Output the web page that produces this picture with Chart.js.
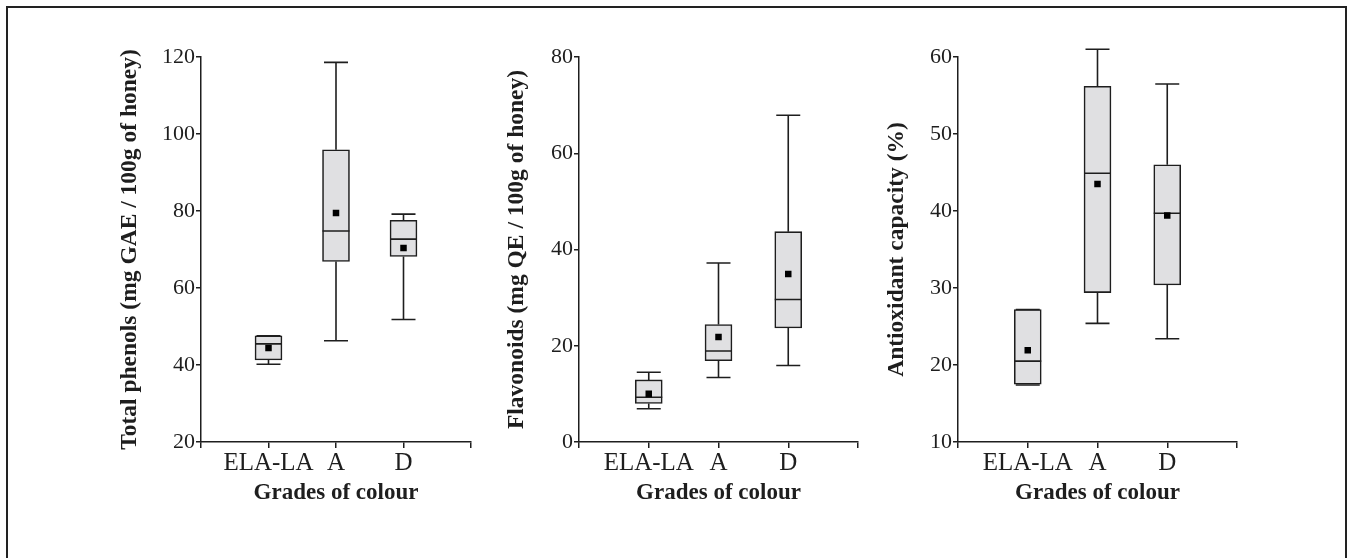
<!DOCTYPE html>
<html>
<head>
<meta charset="utf-8">
<script src="https://cdn.jsdelivr.net/npm/chart.js@4/dist/chart.umd.min.js"></script>
<style>
    body { margin: 0; background: #fff; }
    #frame { position: absolute; left: 6px; top: 6px; width: 1341px; height: 600px; border: 2px solid #222; box-sizing: border-box; }
    canvas { position: absolute; top: 0; }
</style>
</head>
<body>
<div id="frame"></div>
<canvas id="phenols" width="380" height="558" style="left:100px"></canvas>
<canvas id="flavonoids" width="380" height="558" style="left:490px"></canvas>
<canvas id="antioxidant" width="380" height="558" style="left:870px"></canvas>
<script>
const grades = ['ELA-LA', 'A', 'D'];

// total phenols (mg GAE / 100g)
const phenolMin = [40.2, 46.3, 51.8];
const phenolQ1 = [41.3, 66.9, 68.2];
const phenolMedian = [45.5, 74.8, 72.7];
const phenolQ3 = [47.6, 95.9, 77.6];
const phenolMax = [47.6, 118.6, 79.2];
const phenolMean = [44.4, 79.5, 70.4];

// flavonoids (mg QE / 100g)
const flavMin = [6.9, 13.4, 15.9];
const flavQ1 = [8.0, 16.9, 23.7];
const flavMedian = [9.3, 18.9, 29.6];
const flavQ3 = [12.9, 24.4, 43.7];
const flavMax = [14.5, 37.2, 67.9];
const flavMean = [10.0, 21.8, 34.9];

// antioxidant capacity (%)
const antiMin = [17.4, 25.4, 23.4];
const antiQ1 = [17.5, 29.4, 30.4];
const antiMedian = [20.5, 44.9, 39.7];
const antiQ3 = [27.2, 56.2, 46.0];
const antiMax = [27.2, 61.0, 56.5];
const antiMean = [21.9, 43.5, 39.4];

const ink = '#1e1e1e';
const serif = "'Liberation Serif', 'DejaVu Serif', serif";

// whiskers + median, drawn from the bar elements and the y scale
const boxPlugin = {
    id: 'boxParts',
    afterDatasetDraw(chart, args) {
        if (args.index !== 0) return;
        const stats = chart.config.options.plugins.boxParts;
        const y = chart.scales.y;
        const ctx = chart.ctx;
        const meta = chart.getDatasetMeta(0);
        ctx.save();
        ctx.strokeStyle = ink;
        ctx.lineWidth = 1.6;
        meta.data.forEach((bar, i) => {
            const k = i - 1;
            if (k < 0 || k >= grades.length) return;
            const x = bar.x;
            const half = bar.width / 2;
            const cap = half - 1.5;
            const yMin = y.getPixelForValue(stats.min[k]);
            const yMax = y.getPixelForValue(stats.max[k]);
            const yQ1 = y.getPixelForValue(stats.q1[k]);
            const yQ3 = y.getPixelForValue(stats.q3[k]);
            const yMed = y.getPixelForValue(stats.median[k]);
            ctx.beginPath();
            ctx.moveTo(x, yQ3); ctx.lineTo(x, yMax);
            ctx.moveTo(x - cap, yMax); ctx.lineTo(x + cap, yMax);
            ctx.moveTo(x, yQ1); ctx.lineTo(x, yMin);
            ctx.moveTo(x - cap, yMin); ctx.lineTo(x + cap, yMin);
            ctx.moveTo(x - half, yMed); ctx.lineTo(x + half, yMed);
            ctx.stroke();
        });
        ctx.restore();
    }
};

function makePanel(id, s, yOpts) {
    const pad = (v) => [null, ...v, null];
    const ctx = document.getElementById(id).getContext('2d');
    return new Chart(ctx, {
        type: 'bar',
        data: {
            labels: ['', ...grades, ''],
            datasets: [{
                data: pad(s.q1.map((q, i) => [q, s.q3[i]])),
                backgroundColor: '#e0e0e2',
                borderColor: ink,
                borderWidth: 1.6,
                borderSkipped: false,
                barThickness: 27,
                order: 2
            }, {
                type: 'line',
                data: pad(s.mean),
                showLine: false,
                pointStyle: 'rect',
                pointRadius: 4.6,
                pointBackgroundColor: '#000',
                pointBorderWidth: 0,
                order: 1
            }]
        },
        options: {
            responsive: false,
            animation: false,
            layout: { padding: { left: 0, right: yOpts.padRight, top: yOpts.top, bottom: 36 } },
            plugins: {
                legend: { display: false },
                tooltip: { enabled: false },
                boxParts: s
            },
            scales: {
                x: {
                    offset: false,
                    grid: { offset: false, drawOnChartArea: false, color: ink, lineWidth: 1.5, tickLength: 6 },
                    border: { color: ink, width: 1.5 },
                    ticks: { color: ink, font: { family: serif, size: 25 }, padding: 0, maxRotation: 0, autoSkip: false },
                    title: { display: true, text: 'Grades of colour', color: ink, font: { family: serif, size: 23, weight: 'bold' }, padding: { top: 0, bottom: 15 } },
                    afterFit(scale) { scale.height = 80; }
                },
                y: {
                    min: yOpts.min,
                    max: yOpts.max,
                    grid: { drawOnChartArea: false, color: ink, lineWidth: 1.5, tickLength: 5 },
                    border: { color: ink, width: 1.5 },
                    ticks: { stepSize: yOpts.step, color: ink, font: { family: serif, size: 22 }, padding: 1 },
                    title: { display: true, text: yOpts.title, color: ink, font: { family: serif, size: 23.5, weight: 'bold' }, padding: { top: yOpts.titlePad, bottom: 0 } },
                    afterFit(scale) { scale.width = yOpts.width; }
                }
            }
        },
        plugins: [boxPlugin]
    });
}

makePanel('phenols',
    { min: phenolMin, q1: phenolQ1, median: phenolMedian, q3: phenolQ3, max: phenolMax, mean: phenolMean },
    { min: 20, max: 120, step: 20, title: 'Total phenols (mg GAE / 100g of honey)', width: 101, titlePad: 16, padRight: 9, top: 57 });

makePanel('flavonoids',
    { min: flavMin, q1: flavQ1, median: flavMedian, q3: flavQ3, max: flavMax, mean: flavMean },
    { min: 0, max: 80, step: 20, title: 'Flavonoids (mg QE / 100g of honey)', width: 89, titlePad: 13, padRight: 12, top: 57 });

makePanel('antioxidant',
    { min: antiMin, q1: antiQ1, median: antiMedian, q3: antiQ3, max: antiMax, mean: antiMean },
    { min: 10, max: 60, step: 10, title: 'Antioxidant capacity (%)', width: 88, titlePad: 13, padRight: 13, top: 57 });
</script>
</body>
</html>
